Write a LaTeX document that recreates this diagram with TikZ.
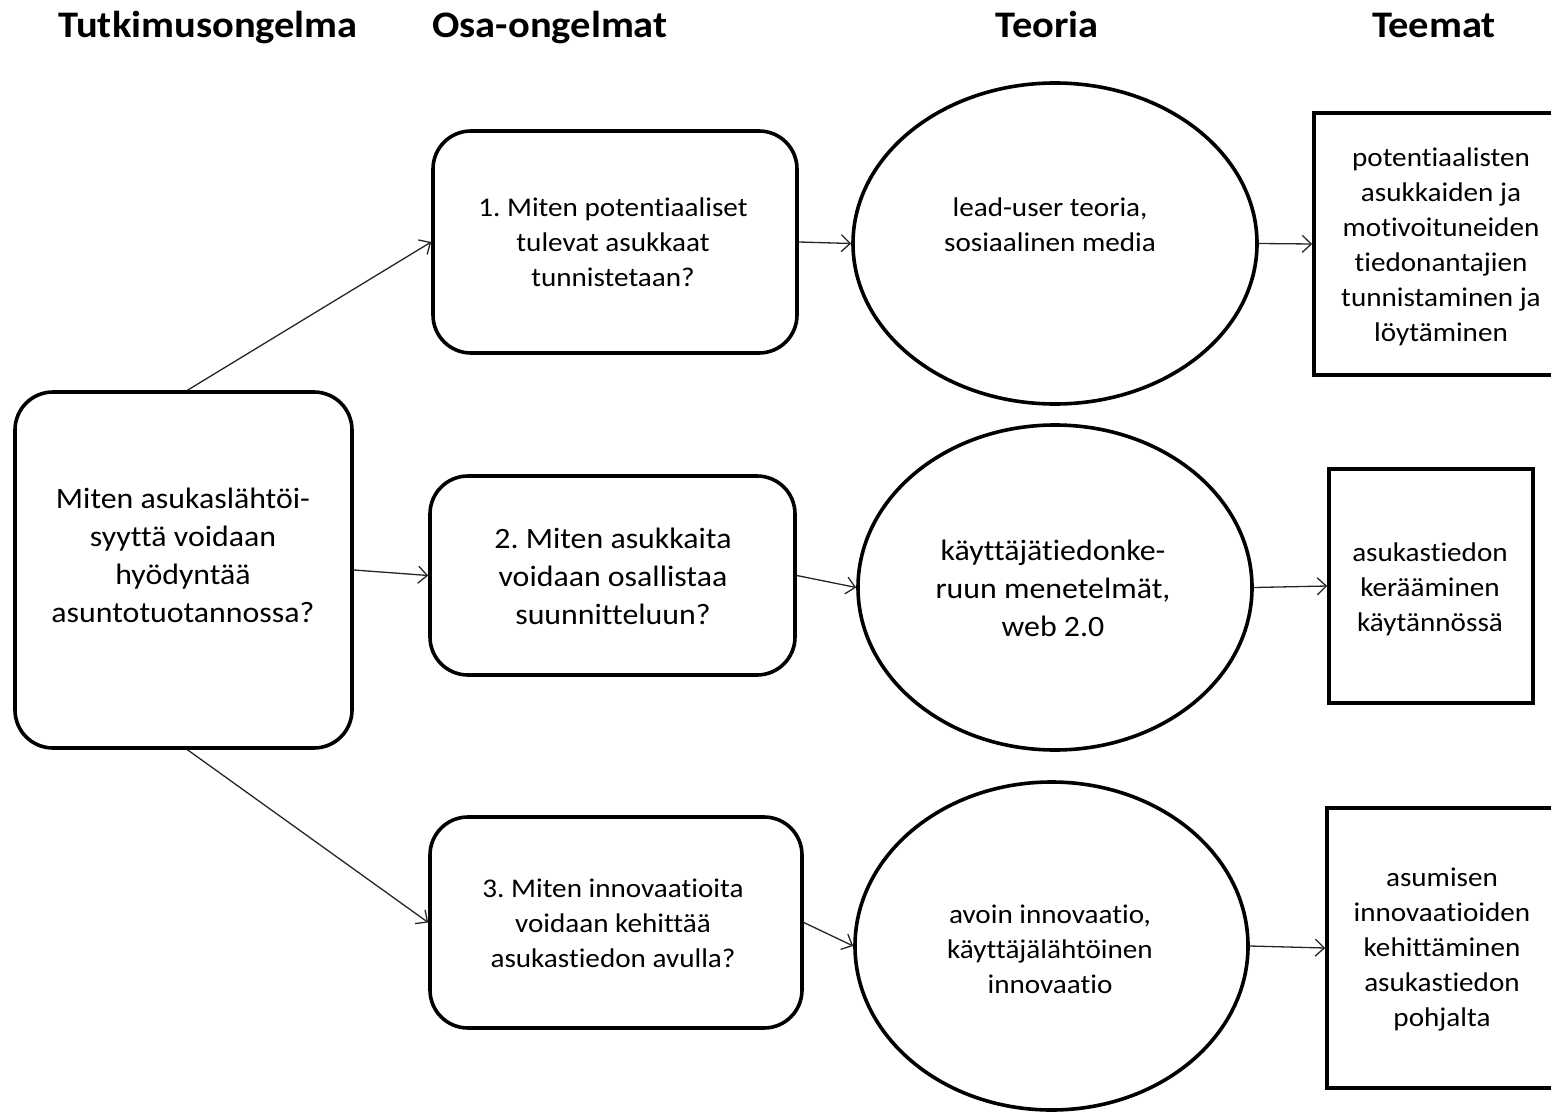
\documentclass[tikz,border=0pt]{standalone}
\usepackage{fontspec}
\setmainfont{Carlito}[FakeStretch=1.08, Ligatures=NoCommon]
\usetikzlibrary{arrows.meta,shapes.geometric}

\begin{document}
\frenchspacing
\begin{tikzpicture}[x=1pt,y=-1pt,
  frame/.style={draw, line width=3.6pt, inner sep=0pt},
  rbox/.style={frame, rectangle, rounded corners=38pt},
  sbox/.style={frame, rectangle},
  oval/.style={frame, ellipse},
  head/.style={font=\fontsize{37.5}{42}\selectfont\bfseries, inner sep=0pt, anchor=base},
  txt/.style={align=center, inner sep=0pt, font=\fontsize{27}{35}\selectfont},
  txtl/.style={align=center, inner sep=0pt, font=\fontsize{29.5}{38}\selectfont},
  link/.style={line width=1.3pt, black!85, -{Straight Barb[length=9pt,width=17pt,line width=1.3pt]}}
]
\useasboundingbox (0,0) rectangle (1551,1113);

% column headings
\node[head] (h1) at (208,38) {Tutkimusongelma};
\node[head] (h2) at (550,38) {Osa-ongelmat};
\node[head] (h3) at (1047,38) {Teoria};
\node[head] (h4) at (1434,38) {Teemat};

% main research problem
\node[rbox, minimum width=337pt, minimum height=356pt] (L) at (183.5,570) {};
\node[txtl] (Lt) at (183,555) {Miten asukaslähtöi-\\syyttä voidaan\\hyödyntää\\asuntotuotannossa?};

% sub-problems
\node[rbox, minimum width=364pt, minimum height=222pt] (n1) at (615,242) {};
\node[txt] (n1t) at (613,242) {1. Miten potentiaaliset\\tulevat asukkaat\\tunnistetaan?};
\node[rbox, minimum width=365pt, minimum height=199pt] (n2) at (612.5,575.5) {};
\node[txtl] (n2t) at (613,576) {2. Miten asukkaita\\voidaan osallistaa\\suunnitteluun?};
\node[rbox, minimum width=372pt, minimum height=211pt] (n3) at (616,922.5) {};
\node[txt] (n3t) at (613,923) {3. Miten innovaatioita\\voidaan kehittää\\asukastiedon avulla?};

% theories
\node[oval, minimum width=404pt, minimum height=321pt] (e1) at (1055,243.5) {};
\node[txt] (e1t) at (1050,224.5) {lead-user teoria,\\sosiaalinen media};
\node[oval, minimum width=394pt, minimum height=325pt] (e2) at (1055,587.5) {};
\node[txtl] (e2t) at (1053,588) {käyttäjätiedonke-\\ruun menetelmät,\\web 2.0};
\node[oval, minimum width=393pt, minimum height=328pt] (e3) at (1051.5,946) {};
\node[txt] (e3t) at (1050,949) {avoin innovaatio,\\käyttäjälähtöinen\\innovaatio};

% themes
\node[sbox, minimum width=251pt, minimum height=262pt] (r1) at (1439.5,244) {};
\node[txt] (r1t) at (1441,246.5) {potentiaalisten\\asukkaiden ja\\motivoituneiden\\tiedonantajien\\tunnistaminen ja\\löytäminen};
\node[sbox, minimum width=204pt, minimum height=234pt] (r2) at (1431,586) {};
\node[txt] (r2t) at (1430,589) {asukastiedon\\kerääminen\\käytännössä};
\node[sbox, minimum width=238pt, minimum height=280pt] (r3) at (1446,948) {};
\node[txt] (r3t) at (1442,950) {asumisen\\innovaatioiden\\kehittäminen\\asukastiedon\\pohjalta};

% connectors
\draw[link] ([xshift=4pt]L.north) -- (n1.west);
\draw[link] (L.east) -- (n2.west);
\draw[link] ([xshift=4pt]L.south) -- (n3.west);
\draw[link] (n1.east) -- (e1.west);
\draw[link] (n2.east) -- (e2.west);
\draw[link] (n3.east) -- (e3.west);
\draw[link] (e1.east) -- (r1.west);
\draw[link] (e2.east) -- (r2.west);
\draw[link] (e3.east) -- (r3.west);
\end{tikzpicture}
\end{document}
